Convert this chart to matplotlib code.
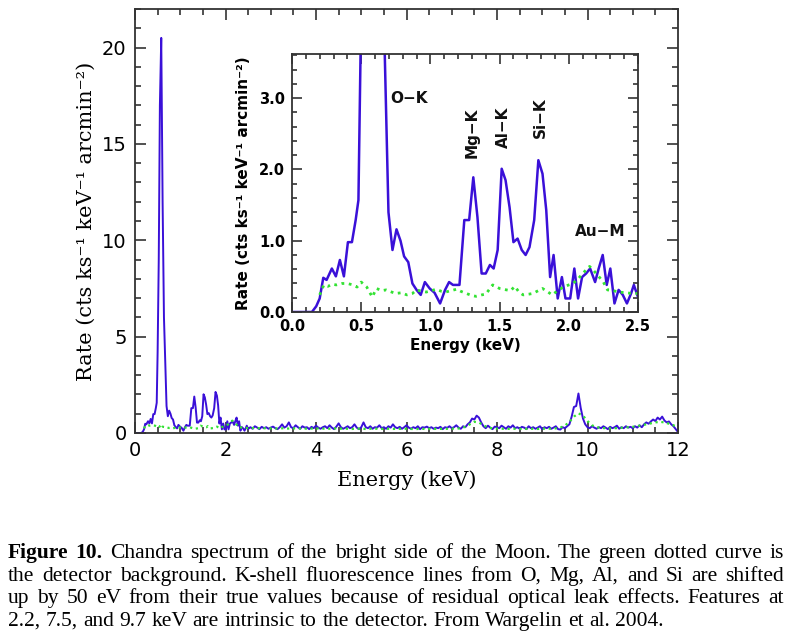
import numpy as np
import matplotlib
matplotlib.use('Agg')
import matplotlib.pyplot as plt
from matplotlib.ticker import MultipleLocator

# spectrum below 2.5 keV, keV / rate
e_lo = [0.0, 0.144, 0.175, 0.2, 0.226, 0.25, 0.288, 0.317, 0.346, 0.375,
        0.404, 0.433, 0.46, 0.48, 0.5, 0.525, 0.55, 0.58, 0.61, 0.64,
        0.668, 0.697, 0.726, 0.755, 0.784, 0.81, 0.84, 0.87, 0.9, 0.93,
        0.96, 0.995, 1.03, 1.07, 1.106, 1.135, 1.163, 1.21, 1.245, 1.28,
        1.31, 1.34, 1.37, 1.4, 1.43, 1.457, 1.486, 1.515, 1.543, 1.572,
        1.6, 1.63, 1.66, 1.688, 1.716, 1.75, 1.78, 1.81, 1.837, 1.865,
        1.89, 1.92, 1.95, 1.976, 2.01, 2.04, 2.067, 2.096, 2.125, 2.154,
        2.19, 2.216, 2.245, 2.274, 2.3, 2.33, 2.36, 2.39, 2.42, 2.45,
        2.47, 2.5]
rate_lo = [0.0, 0.0, 0.08, 0.19, 0.48, 0.45, 0.61, 0.5, 0.73, 0.5,
           0.98, 0.98, 1.29, 1.57, 4.2, 9.0, 17.0, 20.5, 12.0, 6.0,
           3.8, 1.4, 0.87, 1.16, 1.0, 0.78, 0.7, 0.4, 0.31, 0.24,
           0.42, 0.33, 0.27, 0.12, 0.31, 0.42, 0.38, 0.38, 1.29, 1.29,
           1.89, 1.33, 0.54, 0.54, 0.66, 0.61, 0.87, 2.01, 1.85, 1.47,
           0.98, 1.03, 0.87, 0.8, 0.91, 1.29, 2.13, 1.94, 1.43, 0.49,
           0.8, 0.19, 0.49, 0.19, 0.19, 0.61, 0.19, 0.49, 0.54, 0.61,
           0.42, 0.61, 0.8, 0.38, 0.61, 0.12, 0.31, 0.24, 0.12, 0.26,
           0.38, 0.21]

# spectrum 2.55 - 12.0 keV in 0.05 keV bins
rate_hi = [0.30, 0.22, 0.35, 0.28, 0.20, 0.32, 0.25, 0.30, 0.22, 0.28,
           0.33, 0.25, 0.20, 0.30, 0.45, 0.28, 0.35, 0.55, 0.30, 0.25,
           0.40, 0.30, 0.22, 0.35, 0.28, 0.30, 0.20, 0.32, 0.25, 0.38,
           0.28, 0.22, 0.30, 0.35, 0.25, 0.40, 0.28, 0.20, 0.33, 0.50,
           0.30, 0.22, 0.28, 0.35, 0.25, 0.30, 0.45, 0.28, 0.20, 0.30,
           0.55, 0.30, 0.25, 0.35, 0.22, 0.30, 0.28, 0.40, 0.25, 0.30,
           0.22, 0.35, 0.28, 0.45, 0.30, 0.25, 0.32, 0.22, 0.30, 0.40,
           0.28, 0.22, 0.30, 0.25, 0.35, 0.20, 0.30, 0.28, 0.33, 0.25,
           0.30, 0.22, 0.28, 0.25, 0.32, 0.20, 0.30, 0.27, 0.35, 0.25,
           0.30, 0.40, 0.28, 0.22, 0.35, 0.30, 0.45, 0.55, 0.75, 0.70,
           0.90, 0.80, 0.55, 0.35, 0.25, 0.38, 0.28, 0.20, 0.33, 0.30,
           0.25, 0.38, 0.30, 0.22, 0.35, 0.28, 0.40, 0.25, 0.30, 0.22,
           0.32, 0.28, 0.20, 0.35, 0.25, 0.30, 0.22, 0.28, 0.35, 0.20,
           0.30, 0.25, 0.32, 0.22, 0.28, 0.35, 0.20, 0.18, 0.30, 0.25,
           0.35, 0.45, 0.85, 1.35, 1.40, 2.05, 1.30, 0.75, 0.45, 0.30,
           0.25, 0.35, 0.28, 0.22, 0.30, 0.25, 0.35, 0.28, 0.20, 0.32,
           0.25, 0.30, 0.38, 0.22, 0.30, 0.25, 0.35, 0.28, 0.32, 0.25,
           0.35, 0.28, 0.40, 0.30, 0.45, 0.55, 0.48, 0.60, 0.70, 0.62,
           0.80, 0.70, 0.85, 0.65, 0.55, 0.60, 0.45, 0.35, 0.20, 0.05]

# detector background (green dotted)
bg_e_lo = [0.2, 0.23, 0.26, 0.29, 0.32, 0.36, 0.4, 0.44, 0.47, 0.5,
           0.54, 0.58, 0.61, 0.65, 0.68, 0.72, 0.75, 0.79, 0.83, 0.87,
           0.9, 0.94, 0.97, 1.01, 1.04, 1.08, 1.11, 1.15, 1.19, 1.22,
           1.26, 1.3, 1.33, 1.37, 1.4, 1.45, 1.5, 1.55, 1.58, 1.61,
           1.64, 1.67, 1.71, 1.74, 1.78, 1.81, 1.85, 1.88, 1.92, 1.96,
           2.0, 2.03, 2.07, 2.1, 2.15, 2.18, 2.22, 2.25, 2.28, 2.32,
           2.36, 2.41, 2.46, 2.5]
bg_lo = [0.24, 0.38, 0.36, 0.39, 0.38, 0.40, 0.40, 0.38, 0.35, 0.42,
         0.35, 0.21, 0.33, 0.30, 0.31, 0.28, 0.26, 0.27, 0.24, 0.26,
         0.31, 0.29, 0.28, 0.30, 0.32, 0.29, 0.28, 0.30, 0.32, 0.29,
         0.26, 0.23, 0.22, 0.24, 0.25, 0.38, 0.33, 0.31, 0.30, 0.36,
         0.28, 0.24, 0.25, 0.26, 0.30, 0.33, 0.28, 0.24, 0.30, 0.35,
         0.38, 0.40, 0.47, 0.54, 0.64, 0.58, 0.49, 0.42, 0.31, 0.30,
         0.28, 0.27, 0.26, 0.26]
# 2.6 - 12.0 keV in 0.1 keV bins
bg_hi = [0.26, 0.25, 0.24, 0.25, 0.24, 0.23, 0.25, 0.24, 0.23, 0.24,
         0.23, 0.24, 0.22, 0.23, 0.24, 0.22, 0.23, 0.22, 0.24, 0.22,
         0.23, 0.22, 0.21, 0.23, 0.22, 0.21, 0.22, 0.23, 0.21, 0.22,
         0.22, 0.21, 0.22, 0.21, 0.22, 0.21, 0.20, 0.22, 0.21, 0.22,
         0.21, 0.22, 0.21, 0.22, 0.23, 0.22, 0.25, 0.32, 0.45, 0.58,
         0.55, 0.40, 0.28, 0.24, 0.23, 0.22, 0.22, 0.21, 0.22, 0.21,
         0.22, 0.21, 0.22, 0.21, 0.22, 0.23, 0.22, 0.24, 0.28, 0.38,
         0.58, 0.85, 1.02, 0.90, 0.62, 0.40, 0.30, 0.26, 0.25, 0.24,
         0.25, 0.26, 0.28, 0.30, 0.32, 0.36, 0.40, 0.45, 0.50, 0.55,
         0.58, 0.55, 0.48, 0.40, 0.30]

caption = [
    [('Figure 10.', True), ('Chandra spectrum of the bright side of the Moon.  The green dotted curve is', False)],
    [('the detector background.  K-shell fluorescence lines from O, Mg, Al, and Si are shifted', False)],
    [('up by 50 eV from their true values because of residual optical leak effects.  Features at', False)],
    [('2.2, 7.5, and 9.7 keV are intrinsic to the detector.  From Wargelin et al. 2004.', False)],
]

e_hi = np.round(np.arange(2.55, 12.001, 0.05), 2)
bg_e_hi = np.round(np.arange(2.6, 12.001, 0.1), 1)
energy = np.concatenate([e_lo, e_hi])
rate = np.concatenate([rate_lo, rate_hi])
bg_energy = np.concatenate([bg_e_lo, bg_e_hi])
bg = np.concatenate([bg_lo, bg_hi])

blue = '#3a10d8'
green = '#33e233'
ylab = 'Rate (cts ks⁻¹ keV⁻¹ arcmin⁻²)'

fig = plt.figure(figsize=(7.96, 6.44), dpi=100)

# main panel
ax = fig.add_axes([135 / 796, 1 - 433 / 644, 543 / 796, 424 / 644])
ax.plot(energy, rate, color=blue, lw=1.4)
ax.plot(bg_energy, bg, color=green, ls=':', lw=1.6)
ax.set_xlim(0, 12)
ax.set_ylim(0, 22)
ax.xaxis.set_major_locator(MultipleLocator(2))
ax.xaxis.set_minor_locator(MultipleLocator(0.5))
ax.yaxis.set_major_locator(MultipleLocator(5))
ax.yaxis.set_minor_locator(MultipleLocator(1))
ax.tick_params(which='both', direction='in', top=True, right=True, width=1.2, color='#333333')
ax.tick_params(which='major', length=8, labelsize=14, pad=6)
ax.tick_params(which='minor', length=4)
for s in ax.spines.values():
    s.set_linewidth(1.3)
    s.set_color('#333333')
ax.set_xlabel('Energy (keV)', family='DejaVu Serif', fontsize=15, labelpad=7)
ax.set_ylabel(ylab, family='DejaVu Serif', fontsize=15, labelpad=4)

# inset
ins = fig.add_axes([292 / 796, 1 - 312 / 644, 346 / 796, 258 / 644])
ins.plot(energy, rate, color=blue, lw=1.8)
ins.plot(bg_energy, bg, color=green, ls=':', lw=2.0)
ins.set_xlim(0, 2.5)
ins.set_ylim(0, 3.62)
ins.xaxis.set_major_locator(MultipleLocator(0.5))
ins.xaxis.set_minor_locator(MultipleLocator(0.1))
ins.yaxis.set_major_locator(MultipleLocator(1.0))
ins.yaxis.set_minor_locator(MultipleLocator(0.2))
ins.xaxis.set_major_formatter('{x:.1f}')
ins.yaxis.set_major_formatter('{x:.1f}')
ins.tick_params(which='both', direction='in', top=True, right=True, width=1.2, color='#333333')
ins.tick_params(which='major', length=7, labelsize=10.5, pad=5)
ins.tick_params(which='minor', length=3.5)
for lab in ins.get_xticklabels() + ins.get_yticklabels():
    lab.set_fontweight('bold')
for s in ins.spines.values():
    s.set_linewidth(1.3)
    s.set_color('#333333')
ins.set_xlabel('Energy (keV)', fontsize=11, fontweight='bold', labelpad=3)
ins.set_ylabel(ylab, fontsize=11, fontweight='bold', labelpad=6)

kw = dict(fontsize=11, fontweight='bold', color='#111111')
ins.text(0.71, 3.0, 'O−K', ha='left', va='center', **kw)
ins.text(1.305, 2.16, 'Mg−K', rotation=90, ha='center', va='bottom', **kw)
ins.text(1.53, 2.30, 'Al−K', rotation=90, ha='center', va='bottom', **kw)
ins.text(1.795, 2.44, 'Si−K', rotation=90, ha='center', va='bottom', **kw)
ins.text(2.225, 1.13, 'Au−M', ha='center', va='center', **kw)

# caption, justified word by word
fig.canvas.draw()
r = fig.canvas.get_renderer()
cap_fs = 15.5
x0, x1 = 8 / 796, 784 / 796
baselines = [558, 581, 603, 626]
for i, parts in enumerate(caption):
    y = 1 - baselines[i] / 644
    texts = []
    for chunk, bold in parts:
        for w in chunk.split():
            texts.append(fig.text(0, y, w, fontsize=cap_fs, family='Liberation Serif',
                                  fontweight='bold' if bold else 'normal', va='baseline'))
    widths = [t.get_window_extent(r).width / fig.bbox.width for t in texts]
    if i < len(caption) - 1:
        gap = (x1 - x0 - sum(widths)) / (len(texts) - 1)
    else:
        gap = cap_fs * 0.25 * 100 / 72 / fig.bbox.width
    x = x0
    for t, w in zip(texts, widths):
        t.set_x(x)
        x += w + gap

fig.savefig('out.png', dpi=100)
